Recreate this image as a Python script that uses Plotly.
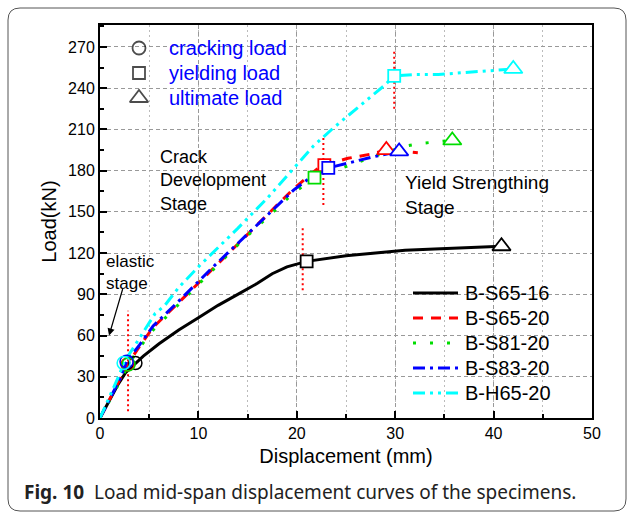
import plotly.graph_objects as go

# ---------------- data ----------------
series_names = ["B-S65-16", "B-S65-20", "B-S81-20", "B-S83-20", "B-H65-20"]

bs6516_x = [0, 1, 1.8, 2.6, 3.6, 4.4, 6, 8, 10, 12, 14, 16, 17.5, 19, 21, 23, 25, 28, 31, 34, 37, 40.8]
bs6516_y = [0, 13, 24, 33, 40, 45, 54, 64, 73, 82, 90, 98, 105, 110, 114, 116, 118, 120, 122, 123, 124, 125]

bs6520_x = [0, 1, 2, 2.8, 4, 5.4, 8, 11.5, 14, 17, 19.7, 22.2, 22.8, 25.2, 27.5, 29.1, 32.3]
bs6520_y = [0, 14, 27, 39, 52, 66, 84, 109, 127, 148, 167, 182, 184, 189, 192, 195, 193]

bs8120_x = [0, 1, 2, 2.9, 4, 5.4, 8, 11.5, 14, 17, 19.7, 21.8, 24.7, 26.2, 28.5, 31.1, 32.8, 35.8]
bs8120_y = [0, 13, 26, 39, 51, 64, 83, 108, 126, 146, 164, 175, 182, 186, 192, 198, 200, 202]

bs8320_x = [0, 1, 2, 2.7, 4, 5.4, 8, 11.5, 14, 17, 19.7, 21.2, 23.2, 25.5, 27.7, 30.4]
bs8320_y = [0, 14, 28, 41, 53, 67, 85, 110, 127, 147, 166, 174, 182, 186, 190, 194]

bh6520_x = [0, 1, 2, 2.4, 4, 5.6, 6.6, 8, 10, 12, 14, 17, 20, 21.7, 23.7, 26, 27.9, 28.9, 29.9, 32, 34.4, 38.6, 42]
bh6520_y = [0, 16, 32, 40, 58, 76, 82, 95, 110, 124, 138, 160, 184, 198, 211, 225, 236, 242, 249, 250, 250, 252, 254]

crack_x = [3.6, 2.8, 2.9, 2.7, 2.4]
crack_y = [40, 39, 39, 41, 40]
yield_x = [21.0, 22.8, 21.8, 23.2, 29.9]
yield_y = [114, 184, 175, 182, 249]
ult_x = [40.8, 29.1, 35.8, 30.4, 42.0]
ult_y = [125, 195, 202, 194, 254]

# red dotted stage boundaries
bound_x = [2.85, 20.6, 22.7, 29.9]
bound_y0 = [5, 93, 155, 225]
bound_y1 = [78, 140, 204, 267]

x_ticks = [0, 10, 20, 30, 40, 50]
y_ticks = [0, 30, 60, 90, 120, 150, 180, 210, 240, 270]

# ---------------- style ----------------
colors = ["#000000", "#ff0000", "#00dd00", "#0000ff", "#00ffff"]
dashes = ["solid", "10px,8px", "3px,14px", "12px,5px,3px,5px", "12px,5px,3px,5px,3px,5px"]
widths = [3, 3, 3, 3, 3]
FONT = "Liberation Sans"

# plot area in pixels
W, H = 627, 513
L, R, T, B = 100, 592, 25, 418


def px(x):
    return (x - L) / (R - L)


def py(y):
    return (B - y) / (B - T)


fig = go.Figure()

curves = [(bs6516_x, bs6516_y), (bs6520_x, bs6520_y), (bs8120_x, bs8120_y),
          (bs8320_x, bs8320_y), (bh6520_x, bh6520_y)]

# boundaries
bx, by = [], []
for xv, a, b in zip(bound_x, bound_y0, bound_y1):
    bx += [xv, xv, None]
    by += [a, b, None]
fig.add_trace(go.Scatter(x=bx, y=by, mode="lines", showlegend=False, hoverinfo="skip",
                         line=dict(color="#ff0000", width=2, dash="2px,3px")))

for i, (cx, cy) in enumerate(curves):
    fig.add_trace(go.Scatter(x=cx, y=cy, mode="lines", name=series_names[i], showlegend=False,
                             line=dict(color=colors[i], width=widths[i], dash=dashes[i])))

for i in range(5):
    fig.add_trace(go.Scatter(x=[crack_x[i]], y=[crack_y[i]], mode="markers", showlegend=False,
                             marker=dict(symbol="circle-open", size=13, color=colors[i],
                                         line=dict(width=1.5, color=colors[i]))))
    fig.add_trace(go.Scatter(x=[yield_x[i]], y=[yield_y[i]], mode="markers", showlegend=False,
                             marker=dict(symbol="square", size=12, color="white",
                                         line=dict(width=1.8, color=colors[i]))))
    fig.add_trace(go.Scatter(x=[ult_x[i]], y=[ult_y[i]], mode="markers", showlegend=False,
                             marker=dict(symbol="triangle-up", size=16, color="white",
                                         line=dict(width=1.8, color=colors[i]))))

shapes = []
annotations = []

# rounded frame
fx0, fx1, fy0, fy1, rr = 8, 626, 8, 511, 12
path = (f"M {px(fx0+rr)},{py(fy0)} L {px(fx1-rr)},{py(fy0)} Q {px(fx1)},{py(fy0)} {px(fx1)},{py(fy0+rr)} "
        f"L {px(fx1)},{py(fy1-rr)} Q {px(fx1)},{py(fy1)} {px(fx1-rr)},{py(fy1)} "
        f"L {px(fx0+rr)},{py(fy1)} Q {px(fx0)},{py(fy1)} {px(fx0)},{py(fy1-rr)} "
        f"L {px(fx0)},{py(fy0+rr)} Q {px(fx0)},{py(fy0)} {px(fx0+rr)},{py(fy0)} Z")
shapes.append(dict(type="path", xref="paper", yref="paper", path=path,
                   line=dict(color="#555555", width=1)))

# bottom-right legend (lines + labels)
leg_y = [293, 318, 343, 368, 393]
for i in range(5):
    shapes.append(dict(type="line", xref="paper", yref="paper", x0=px(413), x1=px(458),
                       y0=py(leg_y[i]), y1=py(leg_y[i]),
                       line=dict(color=colors[i], width=3, dash=dashes[i])))
    annotations.append(dict(xref="paper", yref="paper", x=px(463), y=py(leg_y[i]),
                            xanchor="left", yanchor="middle", showarrow=False,
                            text=series_names[i], font=dict(family=FONT, size=20, color="black")))

# top-left marker legend
mk_labels = ["cracking load", "yielding load", "ultimate load"]
mk_symbols = ["circle-open", "square-open", "triangle-up-open"]
mk_sizes = [13, 12, 16]
mk_y = [48, 73, 98]
for i in range(3):
    annotations.append(dict(xref="paper", yref="paper", x=px(167), y=py(mk_y[i]),
                            xanchor="left", yanchor="middle", showarrow=False,
                            text=mk_labels[i], font=dict(family=FONT, size=20, color="#0000ff")))
fig.add_trace(go.Scatter(x=[px(139)] * 3, y=[py(v) for v in mk_y], xaxis="x2", yaxis="y2",
                         mode="markers", showlegend=False, hoverinfo="skip",
                         marker=dict(symbol=mk_symbols, size=mk_sizes, color="black",
                                     line=dict(width=1.8, color="black"))))

# stage texts
annotations.append(dict(x=5.9, y=173, xanchor="left", yanchor="middle", showarrow=False, align="left",
                        text="Crack<br>Development<br>Stage", font=dict(family=FONT, size=18, color="black")))
annotations.append(dict(x=30.8, y=162, xanchor="left", yanchor="middle", showarrow=False, align="left",
                        text="Yield Strengthing<br>Stage", font=dict(family=FONT, size=19, color="black")))
annotations.append(dict(x=0.45, y=106, xanchor="left", yanchor="middle", showarrow=False, align="left",
                        text="elastic<br>stage", font=dict(family=FONT, size=17, color="black")))
annotations.append(dict(x=0.92, y=60, ax=2.35, ay=95, axref="x", ayref="y", showarrow=True,
                        arrowhead=2, arrowsize=1.2, arrowwidth=1.2, arrowcolor="black", text=""))

# caption
annotations.append(dict(xref="paper", yref="paper", x=px(22), y=py(492), xanchor="left", yanchor="middle",
                        showarrow=False,
                        text="<b>Fig. 10</b>  Load mid-span displacement curves of the specimens.",
                        font=dict(family="Noto Sans", size=19, color="#222222")))

fig.update_layout(
    width=W, height=H,
    margin=dict(l=L, r=W - R, t=T, b=H - B),
    paper_bgcolor="white", plot_bgcolor="white",
    shapes=shapes, annotations=annotations,
    xaxis=dict(range=[0, 50], tickvals=x_ticks, ticks="inside", ticklen=7, tickwidth=1.5,
               tickcolor="black", showline=True, linecolor="black", linewidth=2, mirror=True,
               showgrid=True, gridcolor="#999999", griddash="4px,3px", gridwidth=1, zeroline=False,
               minor=dict(dtick=5, ticks="inside", ticklen=4, tickcolor="black", showgrid=True,
                          gridcolor="#bbbbbb", griddash="2px,3px"),
               tickfont=dict(family=FONT, size=16, color="black"),
               title=dict(text="Displacement (mm)", font=dict(family=FONT, size=20, color="black"),
                          standoff=8)),
    yaxis=dict(range=[0, 286], tickvals=y_ticks, ticks="inside", ticklen=7, tickwidth=1.5,
               tickcolor="black", showline=True, linecolor="black", linewidth=2, mirror=True,
               showgrid=True, gridcolor="#999999", griddash="4px,3px", gridwidth=1, zeroline=False,
               minor=dict(dtick=15, ticks="inside", ticklen=4, tickcolor="black", showgrid=False),
               tickfont=dict(family=FONT, size=16, color="black"),
               title=dict(text="Load(kN)", font=dict(family=FONT, size=20, color="black"), standoff=6)),
    xaxis2=dict(range=[0, 1], overlaying="x", visible=False),
    yaxis2=dict(range=[0, 1], overlaying="y", visible=False),
)

fig.write_html("out.html")
